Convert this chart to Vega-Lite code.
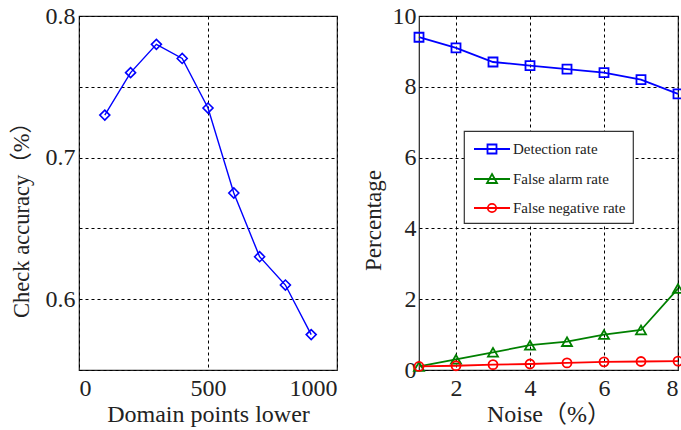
{
  "$schema": "https://vega.github.io/schema/vega-lite/v6.json",
  "padding": {"left": 9, "top": 3, "right": 0, "bottom": 0},
  "autosize": {"type": "pad"},
  "background": "white",
  "config": {
    "font": "Liberation Serif",
    "view": {"stroke": "#222", "strokeWidth": 1.2},
    "legend": {"strokeWidth": 1.2},
    "axis": {
      "domain": false, "ticks": false,
      "labelFont": "Liberation Serif", "labelFontSize": 24, "labelColor": "#222",
      "titleFont": "Liberation Serif, Noto Sans CJK SC", "titleFontSize": 24, "titleFontWeight": "normal", "titleColor": "#222",
      "gridColor": "#000", "gridDash": [3, 3], "gridOpacity": 1, "gridWidth": 1
    }
  },
  "spacing": 82,
  "bounds": "flush",
  "hconcat": [
    {
      "width": 258, "height": 354,
      "data": {"values": [
        {"points": 100, "accuracy": 0.73},
        {"points": 200, "accuracy": 0.76},
        {"points": 300, "accuracy": 0.78},
        {"points": 400, "accuracy": 0.77},
        {"points": 500, "accuracy": 0.735},
        {"points": 600, "accuracy": 0.675},
        {"points": 700, "accuracy": 0.63},
        {"points": 800, "accuracy": 0.61},
        {"points": 900, "accuracy": 0.575}
      ]},
      "mark": {"type": "line", "color": "#0000ff", "strokeWidth": 1.4,
        "point": {"shape": "diamond", "filled": false, "size": 100, "stroke": "#0000ff", "strokeWidth": 1.6}},
      "encoding": {
        "x": {"field": "points", "type": "quantitative",
          "scale": {"domain": [0, 1000], "nice": false},
          "axis": {"title": "Domain points lower", "values": [0, 500, 1000], "format": "d", "labelPadding": 6, "titlePadding": 2}},
        "y": {"field": "accuracy", "type": "quantitative",
          "scale": {"domain": [0.55, 0.8], "nice": false, "zero": false},
          "axis": {"title": "Check accuracy（%）", "titleFontSize": 22.5, "titleY": 198, "values": [0.55, 0.6, 0.65, 0.7, 0.75, 0.8],
            "labelExpr": "round(datum.value*100) % 10 == 0 ? format(datum.value, '.1f') : ''",
            "labelPadding": 4, "titlePadding": 12}}
      }
    },
    {
      "width": 259, "height": 354,
      "data": {"values": [
        {"noise": 1, "series": "Detection rate", "value": 9.4},
        {"noise": 2, "series": "Detection rate", "value": 9.1},
        {"noise": 3, "series": "Detection rate", "value": 8.7},
        {"noise": 4, "series": "Detection rate", "value": 8.6},
        {"noise": 5, "series": "Detection rate", "value": 8.5},
        {"noise": 6, "series": "Detection rate", "value": 8.4},
        {"noise": 7, "series": "Detection rate", "value": 8.2},
        {"noise": 8, "series": "Detection rate", "value": 7.8},
        {"noise": 1, "series": "False alarm rate", "value": 0.1},
        {"noise": 2, "series": "False alarm rate", "value": 0.3},
        {"noise": 3, "series": "False alarm rate", "value": 0.5},
        {"noise": 4, "series": "False alarm rate", "value": 0.7},
        {"noise": 5, "series": "False alarm rate", "value": 0.8},
        {"noise": 6, "series": "False alarm rate", "value": 1.0},
        {"noise": 7, "series": "False alarm rate", "value": 1.13},
        {"noise": 8, "series": "False alarm rate", "value": 2.3},
        {"noise": 1, "series": "False negative rate", "value": 0.1},
        {"noise": 2, "series": "False negative rate", "value": 0.12},
        {"noise": 3, "series": "False negative rate", "value": 0.15},
        {"noise": 4, "series": "False negative rate", "value": 0.17},
        {"noise": 5, "series": "False negative rate", "value": 0.2},
        {"noise": 6, "series": "False negative rate", "value": 0.23},
        {"noise": 7, "series": "False negative rate", "value": 0.24},
        {"noise": 8, "series": "False negative rate", "value": 0.25}
      ]},
      "encoding": {
        "x": {"field": "noise", "type": "quantitative",
          "scale": {"domain": [1, 8], "nice": false, "zero": false},
          "axis": {"title": "Noise（%）", "values": [2, 4, 6, 8], "labelPadding": 6, "titlePadding": 2}},
        "y": {"field": "value", "type": "quantitative",
          "scale": {"domain": [0, 10], "nice": false},
          "axis": {"title": "Percentage", "titleFontSize": 23, "titleY": 204, "values": [0, 2, 4, 6, 8, 10], "labelPadding": 3, "titlePadding": 7}},
        "color": {"field": "series", "type": "nominal",
          "scale": {"domain": ["Detection rate", "False alarm rate", "False negative rate"], "range": ["#0000ff", "#008000", "#ff0000"]},
          "legend": null}
      },
      "layer": [
        {
          "mark": {"type": "line", "strokeWidth": 1.8},
          "encoding": {
            "color": {"field": "series", "type": "nominal",
              "legend": {
                "title": null, "orient": "none", "legendX": 385, "legendY": 115,
                "padding": 7, "fillColor": "white", "strokeColor": "#333",
                "symbolSize": 400, "symbolStrokeWidth": 1.8, "rowPadding": 10, "labelOffset": 20,
                "labelFont": "Liberation Serif", "labelFontSize": 15, "labelColor": "#222",
                "encode": {"symbols": {"update": {
                  "shape": {"signal": "datum.value === 'Detection rate' ? 'M-0.8,0H2.8M0.55,-0.45H1.45V0.45H0.55Z' : datum.value === 'False alarm rate' ? 'M-0.8,0H2.8M1,-0.5L1.5,0.4H0.5Z' : 'M-0.8,0H2.8M1.42,0A0.42,0.42 0 1,1 0.58,0A0.42,0.42 0 1,1 1.42,0Z'"},
                  "fill": {"value": "transparent"}
                }}}
              }}
          }
        },
        {
          "transform": [{"filter": "datum.series === 'Detection rate'"}],
          "mark": {"type": "point", "shape": "square", "filled": false, "size": 81, "strokeWidth": 1.8, "opacity": 1}
        },
        {
          "transform": [{"filter": "datum.series === 'False alarm rate'"}],
          "mark": {"type": "point", "shape": "triangle-up", "filled": false, "size": 100, "strokeWidth": 1.8, "opacity": 1}
        },
        {
          "transform": [{"filter": "datum.series === 'False negative rate'"}],
          "mark": {"type": "point", "shape": "circle", "filled": false, "size": 81, "strokeWidth": 1.8, "opacity": 1}
        }
      ]
    }
  ]
}
